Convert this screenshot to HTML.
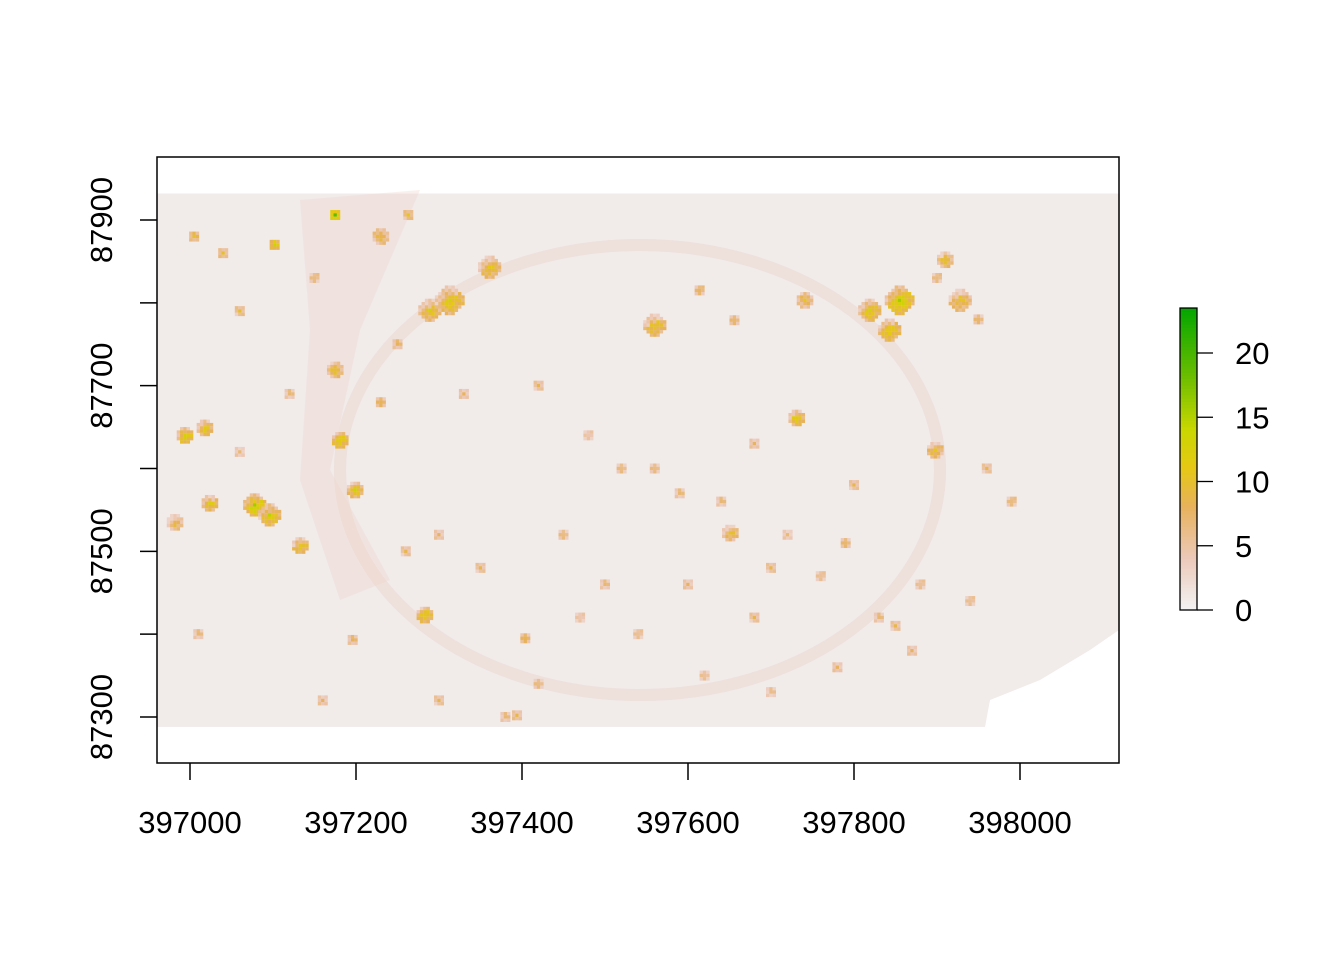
<!DOCTYPE html>
<html><head><meta charset="utf-8"><style>
body{margin:0;background:#fff;}
svg text{font-family:"Liberation Sans",Arial,sans-serif;font-size:31px;fill:#000;}
</style></head><body>
<svg id="chart" width="1344" height="960" xmlns="http://www.w3.org/2000/svg">
<g id="raster"></g>
<g id="axes"></g>
<g id="legend"></g>
</svg>
<script>
// ---- data ----
const xTicks = [397000, 397200, 397400, 397600, 397800, 398000];
const yTicks = [87300, 87400, 87500, 87600, 87700, 87800, 87900];
const yTickLabels = ["87300", "", "87500", "", "87700", "", "87900"];
const legendTicks = [0, 5, 10, 15, 20];
const extentX = [396960, 398120];
const extentY = [87288, 87932];
// patches (tree crowns): x, y, radius (m), height
const patchX = [396994,397018,397024,397078,397096,397133,396982,397361,397313,397289,397560,397731,397651,397819,397855,397843,397910,397928,397898,397199,397181,397175,397102,397175,397263,397283,397404,397196,397394,397741,397614,397656,397005,397040,397060,397150,397230,397250,397330,397420,397480,397520,397590,397680,397700,397760,397790,397830,397870,397960,397990,397450,397500,397300,397350,397540,397620,397700,397780,397850,397940,397230,397120,397060,397260,397470,397560,397640,397720,397800,397880,397420,397380,397600,397680,397900,397950,397010,397160,397300];
const patchY = [87640,87649,87558,87556,87544,87507,87535,87843,87803,87791,87773,87661,87522,87791,87803,87767,87852,87803,87622,87574,87634,87719,87870,87906,87906,87423,87395,87393,87302,87803,87815,87779,87880,87860,87790,87830,87880,87750,87690,87700,87640,87600,87570,87630,87480,87470,87510,87420,87380,87600,87560,87520,87460,87520,87480,87400,87350,87330,87360,87410,87440,87680,87690,87620,87500,87420,87600,87560,87520,87580,87460,87340,87300,87460,87420,87830,87780,87400,87320,87320];
const patchR = [8,8,9,12,10,8,6,12,14,10,12,7,7,12,16,12,9,11,7,7,8,8,5,3,5,6,5,4,5,6,5,4,5,5,4,5,6,5,3,3,3,3,3,3,3,3,3,3,3,3,3,3,3,3,3,3,3,3,3,3,3,3,3,3,3,3,3,3,3,3,3,3,3,3,3,3,3,3,3,3];
const patchH = [14,12,12,15,13,12,9,11,12,11,11,12,10,12,14,12,10,10,10,12,13,10,14,18,9,12,9,8,8,9,9,8,10,9,8,8,9,8,7,7,6,7,7,7,7,7,8,7,7,7,8,7,7,7,7,7,6,6,7,7,7,9,7,6,7,6,7,7,6,7,7,7,7,7,7,8,8,7,7,7];

// ---- scales ----
const sx = v => 190 + (v - 397000) * 0.83;
const sy = v => 220 - (v - 87900) * 0.8283;
const stops = [[0,[242,242,242]],[4,[236,200,184]],[8,[231,178,90]],[11,[230,200,20]],[14,[200,215,0]],[18,[110,190,0]],[23.5,[0,166,0]]];
function col(h){
  for(let i=1;i<stops.length;i++){ if(h<=stops[i][0]){const a=stops[i-1],b=stops[i];const t=(h-a[0])/(b[0]-a[0]);
    return 'rgb('+a[1].map((c,k)=>Math.round(c+(b[1][k]-c)*t)).join(',')+')';}}
  return 'rgb(0,166,0)';
}
const NS='http://www.w3.org/2000/svg';
function mk(tag,attrs,parent){const e=document.createElementNS(NS,tag);for(const k in attrs)e.setAttribute(k,attrs[k]);parent.appendChild(e);return e;}

// ---- raster ----
const R=document.getElementById('raster');
const bg=mk('rect',{x:sx(extentX[0]),y:sy(extentY[1]),width:sx(extentX[1])-sx(extentX[0]),height:sy(extentY[0])-sy(extentY[1]),fill:'#f1ebea'},R);


const ring=mk('ellipse',{cx:640,cy:470,rx:300,ry:225,fill:'none',stroke:'#ecd2c9',"stroke-width":12,opacity:0.45},R);


const nw=mk('path',{d:'M300 200 L420 190 L360 330 L330 470 L390 580 L340 600 L300 480 L310 330 Z',fill:'#edd3ca',opacity:0.35},R);


const cut=mk('path',{d:'M1119 630 L1090 650 L1040 680 L990 700 L985 727 L1119 727 Z',fill:'#ffffff'},R);


for(let i=0;i<patchX.length;i++){
  const cx=sx(patchX[i]),cy=sy(patchY[i]),r=patchR[i]*0.83,h=patchH[i];
  const g=mk('g',{},R);
  
  
  const n=Math.max(1,Math.round(r/3));
  for(let a=-n;a<=n;a++)for(let b=-n;b<=n;b++){
    if(a*a+b*b>n*n+1)continue;
    const d=Math.sqrt(a*a+b*b)/(n+0.5);
    const hv=h*(1-0.45*d)+(((a*7+b*13+i)%5)-2)*0.8;
    mk('rect',{x:cx+a*3.3-1.7,y:cy+b*3.3-1.7,width:3.4,height:3.4,fill:col(Math.max(3,hv))},g);
  }
}

// ---- axes ----
const A=document.getElementById('axes');
const box=mk('rect',{x:157,y:157,width:962,height:606,fill:'none',stroke:'#000','stroke-width':1.5},A);


xTicks.forEach(v=>{
  mk('line',{x1:sx(v),x2:sx(v),y1:763,y2:780,stroke:'#000','stroke-width':1.5},A);
  const t=mk('text',{x:sx(v),y:833,'text-anchor':'middle'},A);t.textContent=v;
  
  
});
yTicks.forEach((v,i)=>{
  mk('line',{x1:140,x2:157,y1:sy(v),y2:sy(v),stroke:'#000','stroke-width':1.5},A);
  if(yTickLabels[i]){const t=mk('text',{x:0,y:0,'text-anchor':'middle',transform:'translate(112,'+sy(v)+') rotate(-90)'},A);t.textContent=yTickLabels[i];
  
  }
});

// ---- legend ----
const L=document.getElementById('legend');
const ly=v=>610-(v)*12.85;
for(let v=0;v<23.5;v+=0.25){mk('rect',{x:1180,y:ly(v+0.25),width:17,height:12.85*0.25+0.6,fill:col(v)},L);}
const lb=mk('rect',{x:1180,y:ly(23.5),width:17,height:ly(0)-ly(23.5),fill:'none',stroke:'#000','stroke-width':1.3},L);


legendTicks.forEach(v=>{
  mk('line',{x1:1197,x2:1213,y1:ly(v),y2:ly(v),stroke:'#000','stroke-width':1.3},L);
  const t=mk('text',{x:1235,y:ly(v)+11},L);t.textContent=v;
  
  
});
</script>
</body></html>
